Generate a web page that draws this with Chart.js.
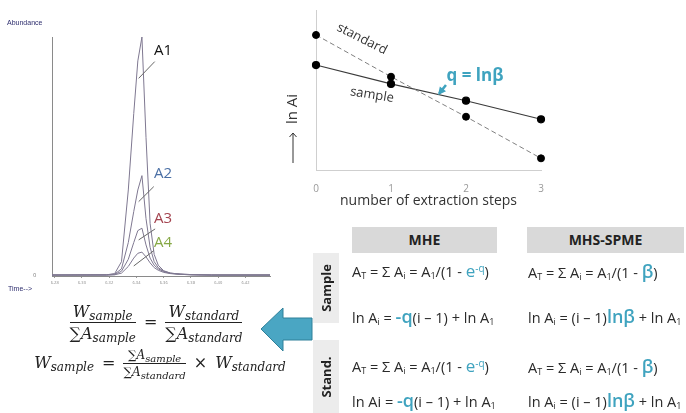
<!DOCTYPE html>
<html lang="en-US">
<head>
	<meta charset="utf-8">
	<title>MHE / MHS-SPME</title>
	<script src="https://cdn.jsdelivr.net/npm/chart.js@4.4.1/dist/chart.umd.min.js"></script>
	<style>
		html, body { margin: 0; padding: 0; background: #fff; }
		.page { position: relative; width: 686px; height: 413px; overflow: hidden; font-family: 'Open Sans', sans-serif; color: #222; }
		canvas { position: absolute; }
		.small { position: absolute; font-family: 'Liberation Sans', sans-serif; font-size: 7px; color: #2e2e6e; }
		.head { position: absolute; background: #d9d9d9; font-weight: bold; font-size: 14px; text-align: center; line-height: 26px; color: #222; }
		.side { position: absolute; background: #ececec; width: 26px; }
		.side span { position: absolute; left: 50%; top: 50%; transform: translate(-50%, -50%) rotate(-90deg); font-weight: bold; font-size: 13px; white-space: nowrap; }
		.cell { position: absolute; font-size: 14.5px; white-space: nowrap; line-height: 20px; color: #2a2a2a; }
		.cell sub { font-size: 9px; vertical-align: -2px; line-height: 0; }
		.cell sup { font-size: 10px; vertical-align: 5px; line-height: 0; }
		.hl { color: #3fa3bf; }
		.big { font-size: 18px; font-weight: 600; }
		.math { position: absolute; font-family: 'DejaVu Serif', serif; font-style: italic; font-size: 16px; color: #222; white-space: nowrap; }
		.math sub { font-size: 12px; vertical-align: -3px; line-height: 0; }
		.frac { display: inline-flex; flex-direction: column; vertical-align: middle; text-align: center; }
		.frac .num { border-bottom: 1px solid #222; padding: 0 2px 1px; }
		.frac .den { padding-top: 1px; }
		.op { font-style: normal; margin: 0 8px; }
		.sig { font-style: normal; }
	</style>
</head>
<body>
<div class="page">
	<canvas id="chrom" width="280" height="300" style="left:0;top:0"></canvas>
	<canvas id="steps" width="300" height="215" style="left:270px;top:0"></canvas>

	<div class="small" style="left:7px;top:19px">Abundance</div>
	<div class="small" style="left:8px;top:285px">Time--&gt;</div>

	<div class="math" style="left:6px;top:302px;width:300px;text-align:center">
		<span class="frac"><span class="num">W<sub>sample</sub></span><span class="den"><span class="sig">∑</span>A<sub>sample</sub></span></span><span class="op">=</span><span class="frac"><span class="num">W<sub>standard</sub></span><span class="den"><span class="sig">∑</span>A<sub>standard</sub></span></span>
	</div>
	<div class="math" style="left:10px;top:348px;width:300px;text-align:center">
		W<sub>sample</sub><span class="op">=</span><span class="frac" style="font-size:12px"><span class="num"><span class="sig">∑</span>A<sub style="font-size:10px">sample</sub></span><span class="den"><span class="sig">∑</span>A<sub style="font-size:10px">standard</sub></span></span><span class="op">×</span>W<sub>standard</sub>
	</div>

	<svg width="686" height="413" style="position:absolute;left:0;top:0;pointer-events:none">
		<polygon points="261,329 283,308 283,318 312,318 312,340 283,340 283,351" fill="#4aa6c3" stroke="#2f8099" stroke-width="1"/>
	</svg>

	<div class="head" style="left:352px;top:227px;width:145px;height:26px">MHE</div>
	<div class="head" style="left:527px;top:227px;width:157px;height:26px">MHS-SPME</div>
	<div class="side" style="left:313px;top:253px;height:70px"><span>Sample</span></div>
	<div class="side" style="left:313px;top:340px;height:73px"><span>Stand.</span></div>

	<div class="cell" style="left:352px;top:261px">A<sub>T</sub> = Σ A<sub>i</sub> = A<sub>1</sub>/(1 - <span class="hl" style="font-size:17px">e</span><sup class="hl">-q</sup>)</div>
	<div class="cell" style="left:352px;top:306px">ln A<sub>i</sub> = <span class="hl big">-q</span>(i – 1) + ln A<sub>1</sub></div>
	<div class="cell" style="left:352px;top:356px">A<sub>T</sub> = Σ A<sub>i</sub> = A<sub>1</sub>/(1 - <span class="hl" style="font-size:17px">e</span><sup class="hl">-q</sup>)</div>
	<div class="cell" style="left:352px;top:390px">ln Ai = <span class="hl big">-q</span>(i – 1) + ln A<sub>1</sub></div>

	<div class="cell" style="left:528px;top:261px">A<sub>T</sub> = Σ A<sub>i</sub> = A<sub>1</sub>/(1 - <span class="hl big">β</span>)</div>
	<div class="cell" style="left:528px;top:306px">ln A<sub>i</sub> = (i – 1)<span class="hl big">lnβ</span> + ln A<sub>1</sub></div>
	<div class="cell" style="left:528px;top:356px">A<sub>T</sub> = Σ A<sub>i</sub> = A<sub>1</sub>/(1 - <span class="hl big">β</span>)</div>
	<div class="cell" style="left:528px;top:390px">ln A<sub>i</sub> = (i – 1)<span class="hl big">lnβ</span> + ln A<sub>1</sub></div>
</div>

<script>
	// chromatogram (retention time, abundance in % of A1)
	var times = [6.278, 6.318, 6.324, 6.329, 6.334, 6.338, 6.341, 6.344, 6.347, 6.350, 6.353, 6.356, 6.360, 6.365, 6.372, 6.380, 6.395, 6.438];
	var peakA1 = [0.4, 0.5, 1, 6, 36, 68, 90, 100, 58, 22, 9, 4.5, 2.2, 1.2, 0.8, 0.6, 0.4, 0.4];
	var peakA2 = [0.4, 0.5, 0.8, 3, 14, 27, 36, 42, 24, 12, 6, 3.5, 2, 1.2, 0.8, 0.6, 0.4, 0.4];
	var peakA3 = [0.4, 0.4, 0.6, 2, 7, 14, 19, 20, 13, 7.5, 4.5, 3, 1.8, 1.1, 0.7, 0.5, 0.4, 0.4];
	var peakA4 = [0.4, 0.4, 0.5, 1.2, 4, 7.5, 9.5, 10, 8, 5.5, 3.5, 2.4, 1.5, 1, 0.7, 0.5, 0.4, 0.4];
	var timeTicks = [6.28, 6.30, 6.32, 6.34, 6.36, 6.38, 6.40, 6.42];

	// ln Ai vs extraction step
	var steps = [0, 1, 2, 3];
	var standardLnA = [8.44, 5.83, 3.33, 0.73];
	var sampleLnA = [6.56, 5.38, 4.33, 3.17];

	Chart.defaults.font.family = "'Open Sans', sans-serif";
	Chart.defaults.animation = false;

	function pts(xs, ys) {
		return xs.map(function (v, i) { return { x: v, y: ys[i] }; });
	}

	// text labels and leader lines given in data units
	var notes = {
		id: 'notes',
		afterDatasetsDraw: function (chart, args, opts) {
			var ctx = chart.ctx, sx = chart.scales.x, sy = chart.scales.y;
			ctx.save();
			(opts.lines || []).forEach(function (l) {
				var x1 = sx.getPixelForValue(l.from[0]), y1 = sy.getPixelForValue(l.from[1]);
				var x2 = sx.getPixelForValue(l.to[0]), y2 = sy.getPixelForValue(l.to[1]);
				ctx.strokeStyle = l.color;
				ctx.fillStyle = l.color;
				ctx.lineWidth = l.width;
				ctx.beginPath();
				ctx.moveTo(x1, y1);
				ctx.lineTo(x2, y2);
				ctx.stroke();
				if (l.head) {
					var a = Math.atan2(y2 - y1, x2 - x1), h = l.head;
					ctx.beginPath();
					ctx.moveTo(x2 + Math.cos(a) * 2, y2 + Math.sin(a) * 2);
					ctx.lineTo(x2 - h * Math.cos(a - 0.6), y2 - h * Math.sin(a - 0.6));
					ctx.lineTo(x2 - h * Math.cos(a + 0.6), y2 - h * Math.sin(a + 0.6));
					ctx.closePath();
					ctx.fill();
				}
			});
			(opts.labels || []).forEach(function (t) {
				ctx.save();
				ctx.translate(sx.getPixelForValue(t.at[0]), sy.getPixelForValue(t.at[1]));
				ctx.rotate((t.rotate || 0) * Math.PI / 180);
				ctx.font = t.font;
				ctx.fillStyle = t.color;
				ctx.textAlign = 'center';
				ctx.textBaseline = 'middle';
				ctx.fillText(t.text, 0, 0);
				ctx.restore();
			});
			ctx.restore();
		}
	};

	var peakColor = '#7f7891';

	new Chart('chrom', {
		type: 'line',
		data: {
			datasets: [peakA1, peakA2, peakA3, peakA4].map(function (p) {
				return { data: pts(times, p), borderColor: peakColor, borderWidth: 1, pointRadius: 0, tension: 0 };
			})
		},
		options: {
			responsive: false,
			layout: { padding: { top: 37, right: 10, left: 0, bottom: 0 } },
			plugins: {
				legend: { display: false },
				tooltip: { enabled: false },
				notes: {
					lines: [
						{ from: [6.3534, 89.7], to: [6.3416, 82.7], color: '#666', width: 1 },
						{ from: [6.3527, 37.4], to: [6.3416, 31.1], color: '#666', width: 1 },
						{ from: [6.3537, 19.7], to: [6.3416, 15.1], color: '#666', width: 1 },
						{ from: [6.3527, 10.6], to: [6.3380, 4.2], color: '#666', width: 1 }
					],
					labels: [
						{ text: 'A1', at: [6.3595, 94.1], color: '#111', font: '15px "Open Sans"' },
						{ text: 'A2', at: [6.3595, 42.7], color: '#4a6fa5', font: '15px "Open Sans"' },
						{ text: 'A3', at: [6.3595, 23.8], color: '#a4434f', font: '15px "Open Sans"' },
						{ text: 'A4', at: [6.3595, 13.8], color: '#86a845', font: '15px "Open Sans"' }
					]
				}
			},
			scales: {
				x: {
					type: 'linear', min: 6.278, max: 6.438,
					afterFit: function (s) { s.height = 24; },
					afterBuildTicks: function (s) { s.ticks = timeTicks.map(function (v) { return { value: v }; }); },
					ticks: { font: { size: 4 }, color: '#888', padding: 2, maxRotation: 0, autoSkip: false,
						callback: function (v) { return v.toFixed(2); } },
					grid: { drawOnChartArea: false, tickLength: 2, color: '#999' },
					border: { color: '#8a8a8a' }
				},
				y: {
					min: 0, max: 100,
					afterFit: function (s) { s.width = 52; },
					ticks: { stepSize: 100, font: { size: 5 }, color: '#666', padding: 8,
						callback: function (v) { return v === 0 ? '0' : ''; } },
					grid: { display: false },
					border: { color: '#8a8a8a' }
				}
			}
		},
		plugins: [notes]
	});

	var yTitle = {
		id: 'yTitle',
		afterDraw: function (chart) {
			var ctx = chart.ctx;
			ctx.save();
			ctx.translate(23, 109);
			ctx.rotate(-Math.PI / 2);
			ctx.font = '15px "Open Sans"';
			ctx.fillStyle = '#333';
			ctx.textAlign = 'center';
			ctx.textBaseline = 'middle';
			ctx.fillText('ln Ai', 0, 0);
			ctx.restore();
			ctx.save();
			ctx.strokeStyle = '#333';
			ctx.lineWidth = 1;
			ctx.beginPath();
			ctx.moveTo(23, 163);
			ctx.lineTo(23, 133);
			ctx.moveTo(19.5, 137);
			ctx.lineTo(23, 133);
			ctx.lineTo(26.5, 137);
			ctx.stroke();
			ctx.restore();
		}
	};

	new Chart('steps', {
		type: 'line',
		data: {
			datasets: [
				{ data: pts(steps, standardLnA), borderColor: '#808080', borderWidth: 1, borderDash: [5, 3],
					pointRadius: 3.5, pointBackgroundColor: '#000', pointBorderColor: '#000', clip: false, tension: 0 },
				{ data: pts(steps, sampleLnA), borderColor: '#3a3a3a', borderWidth: 1.2,
					pointRadius: 3.5, pointBackgroundColor: '#000', pointBorderColor: '#000', clip: false, tension: 0 }
			]
		},
		options: {
			responsive: false,
			layout: { padding: { top: 10, right: 29, left: 0, bottom: 0 } },
			plugins: {
				legend: { display: false },
				tooltip: { enabled: false },
				notes: {
					lines: [
						{ from: [1.733, 5.31], to: [1.644, 4.79], color: '#3fa3bf', width: 2.5, head: 7 }
					],
					labels: [
						{ text: 'standard', at: [0.613, 8.19], rotate: 27, color: '#333', font: '13px "Open Sans"' },
						{ text: 'sample', at: [0.747, 4.69], rotate: 9, color: '#333', font: '13px "Open Sans"' },
						{ text: 'q = lnβ', at: [2.12, 5.875], color: '#3fa3bf', font: 'bold 17px "Open Sans"' }
					]
				}
			},
			scales: {
				x: {
					type: 'linear', min: 0, max: 3,
					afterFit: function (s) { s.height = 45; },
					ticks: { stepSize: 1, font: { size: 10 }, color: '#999', padding: 5 },
					grid: { display: false },
					border: { color: '#cfcfcf' },
					title: { display: true, text: 'number of extraction steps', color: '#333', font: { size: 14 }, padding: { top: 0, bottom: 6 } }
				},
				y: {
					min: 0, max: 10,
					afterFit: function (s) { s.width = 46; },
					ticks: { display: false },
					grid: { display: false },
					border: { color: '#cfcfcf' }
				}
			}
		},
		plugins: [notes, yTitle]
	});
</script>
</body>
</html>
